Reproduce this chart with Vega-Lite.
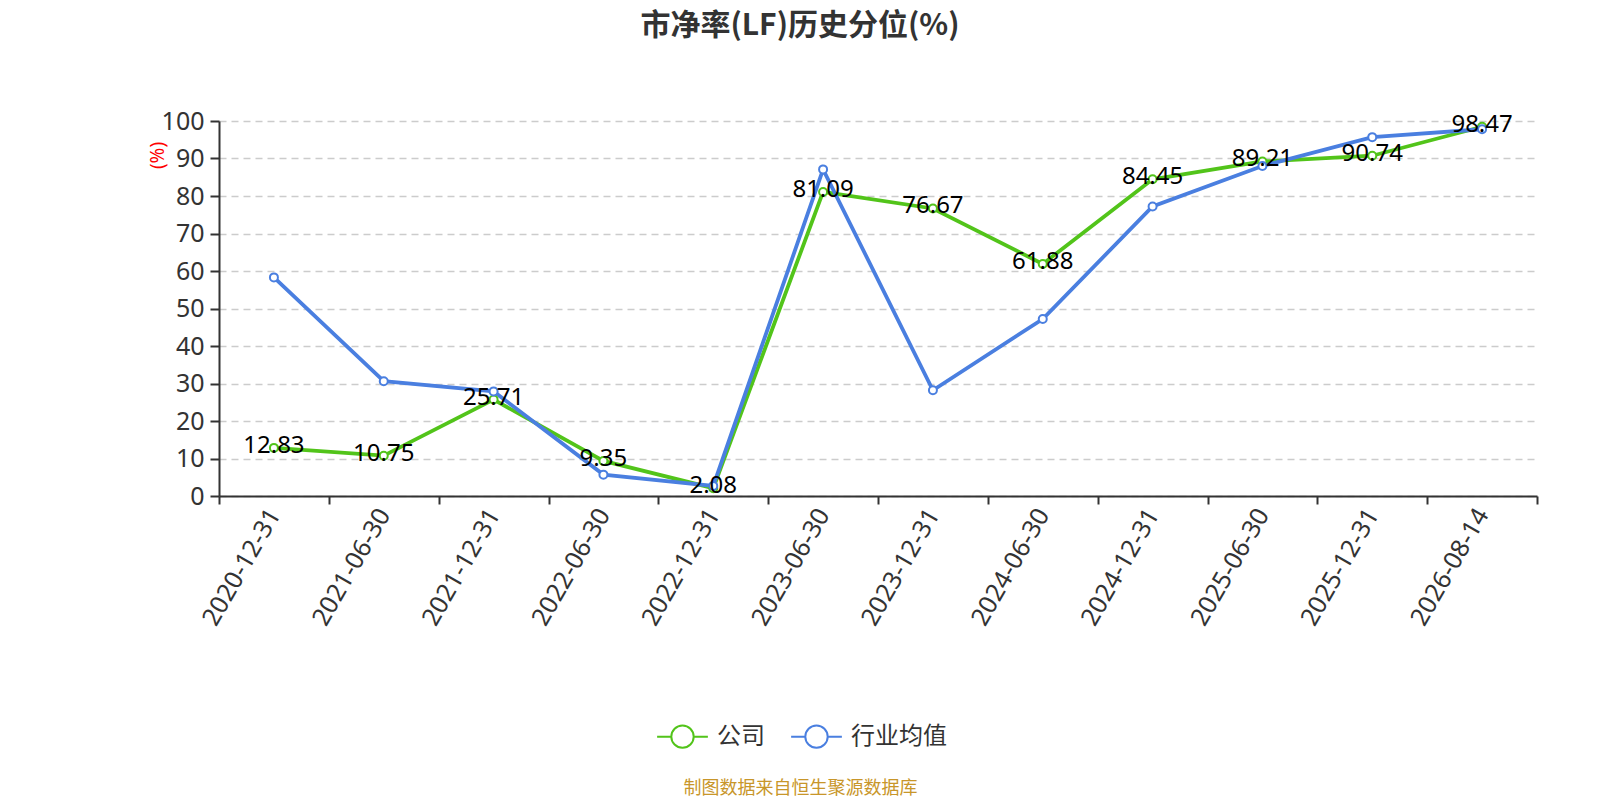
{
  "$schema": "https://vega.github.io/schema/vega-lite/v6.json",
  "width": 1318,
  "height": 375,
  "autosize": {"type": "none"},
  "padding": {"left": 219, "top": 121, "right": 63, "bottom": 304},
  "background": "white",
  "config": {
    "font": "Noto Sans, Noto Sans CJK SC",
    "view": {"stroke": null}
  },
  "title": {
    "text": "市净率(LF)历史分位(%)",
    "fontSize": 30,
    "fontWeight": "bold",
    "color": "#333333",
    "font": "Noto Sans CJK SC",
    "anchor": "middle",
    "frame": "group",
    "baseline": "middle",
    "offset": 53,
    "dx": -78
  },
  "data": {
    "values": [
      {"date": "2020-12-31", "series": "公司", "value": 12.83},
      {"date": "2021-06-30", "series": "公司", "value": 10.75},
      {"date": "2021-12-31", "series": "公司", "value": 25.71},
      {"date": "2022-06-30", "series": "公司", "value": 9.35},
      {"date": "2022-12-31", "series": "公司", "value": 2.08},
      {"date": "2023-06-30", "series": "公司", "value": 81.09},
      {"date": "2023-12-31", "series": "公司", "value": 76.67},
      {"date": "2024-06-30", "series": "公司", "value": 61.88},
      {"date": "2024-12-31", "series": "公司", "value": 84.45},
      {"date": "2025-06-30", "series": "公司", "value": 89.21},
      {"date": "2025-12-31", "series": "公司", "value": 90.74},
      {"date": "2026-08-14", "series": "公司", "value": 98.47},
      {"date": "2020-12-31", "series": "行业均值", "value": 58.3},
      {"date": "2021-06-30", "series": "行业均值", "value": 30.6},
      {"date": "2021-12-31", "series": "行业均值", "value": 27.9},
      {"date": "2022-06-30", "series": "行业均值", "value": 5.7},
      {"date": "2022-12-31", "series": "行业均值", "value": 2.7},
      {"date": "2023-06-30", "series": "行业均值", "value": 87.1},
      {"date": "2023-12-31", "series": "行业均值", "value": 28.2},
      {"date": "2024-06-30", "series": "行业均值", "value": 47.2},
      {"date": "2024-12-31", "series": "行业均值", "value": 77.2},
      {"date": "2025-06-30", "series": "行业均值", "value": 88.0},
      {"date": "2025-12-31", "series": "行业均值", "value": 95.7},
      {"date": "2026-08-14", "series": "行业均值", "value": 97.8}
    ]
  },
  "encoding": {
    "x": {
      "field": "date",
      "type": "ordinal",
      "sort": null,
      "scale": {"type": "band", "paddingInner": 0, "paddingOuter": 0},
      "axis": {
        "title": "制图数据来自恒生聚源数据库",
        "titleColor": "#c8962a",
        "titleFontSize": 18,
        "titleFontWeight": "normal",
        "titleFont": "Noto Sans CJK SC",
        "titleX": 581,
        "titleY": 292,
        "titleAlign": "center",
        "titleBaseline": "middle",
        "tickBand": "extent",
        "labelAngle": -60,
        "labelAlign": "right",
        "labelBaseline": "middle",
        "labelFontSize": 25,
        "labelColor": "#333333",
        "labelPadding": 6,
        "tickSize": 8,
        "tickColor": "#333333",
        "tickWidth": 2,
        "domainColor": "#333333",
        "domainWidth": 2,
        "grid": false
      }
    },
    "y": {
      "field": "value",
      "type": "quantitative",
      "scale": {"domain": [0, 100], "nice": false},
      "axis": {
        "title": "(%)",
        "titleColor": "#ff0000",
        "titleFontSize": 19,
        "titleFontWeight": "normal",
        "titleX": -62,
        "titleY": 34,
        "titleAngle": -90,
        "titleAlign": "center",
        "titleBaseline": "middle",
        "values": [0, 10, 20, 30, 40, 50, 60, 70, 80, 90, 100],
        "labelFontSize": 25,
        "labelColor": "#333333",
        "labelPadding": 6,
        "tickSize": 9,
        "tickColor": "#333333",
        "tickWidth": 2,
        "domainColor": "#333333",
        "domainWidth": 2,
        "grid": true,
        "gridColor": "#cccccc",
        "gridDash": [7, 5],
        "gridWidth": 1.5
      }
    },
    "stroke": {
      "field": "series",
      "type": "nominal",
      "scale": {"domain": ["公司", "行业均值"], "range": ["#52c41a", "#4a7fe0"]},
      "legend": {
        "title": null,
        "orient": "none",
        "direction": "horizontal",
        "legendX": 451,
        "legendY": 603,
        "padding": 0,
        "labelFontSize": 24,
        "labelColor": "#333333",
        "labelFont": "Noto Sans CJK SC",
        "labelOffset": 22,
        "columnPadding": 22,
        "symbolType": "M-2.27,0L-1,0M1,0L2.27,0M1,0A1,1,0,1,1,-1,0A1,1,0,1,1,1,0Z",
        "symbolSize": 500,
        "symbolStrokeWidth": 2,
        "symbolFillColor": "white",
        "symbolOpacity": 1
      }
    }
  },
  "layer": [
    {
      "mark": {"type": "line", "strokeWidth": 3.8}
    },
    {
      "mark": {"type": "point", "shape": "circle", "filled": true, "fill": "white", "fillOpacity": 1, "size": 64, "strokeWidth": 2, "opacity": 1}
    },
    {
      "transform": [{"filter": "datum.series === '公司'"}],
      "mark": {"type": "text", "fontSize": 24, "color": "#000000", "align": "center", "baseline": "middle", "dy": -2},
      "encoding": {
        "text": {"field": "value", "type": "quantitative", "format": ".2f"},
        "stroke": {"value": null}
      }
    }
  ]
}
